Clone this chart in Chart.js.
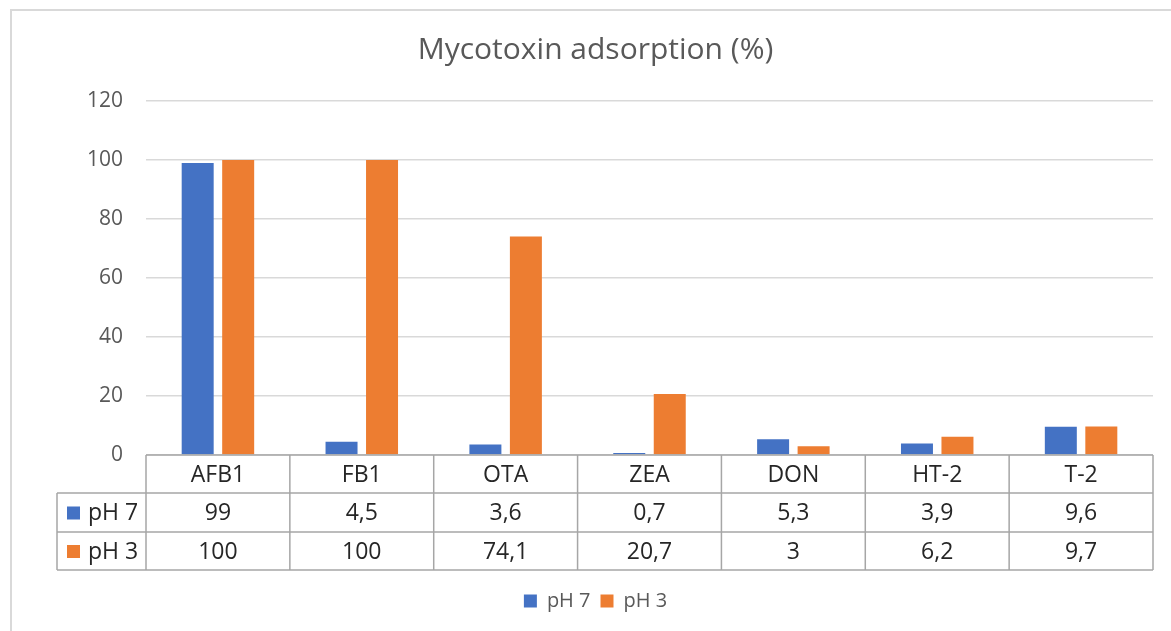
<!DOCTYPE html>
<html>
<head>
<meta charset="utf-8">
<script src="https://cdn.jsdelivr.net/npm/chart.js@4"></script>
<style>
  body { margin: 0; background: #fff; }
</style>
</head>
<body>
<canvas id="myChart" width="1171" height="631"></canvas>
<script>
/* data */
const categories = ['AFB1', 'FB1', 'OTA', 'ZEA', 'DON', 'HT-2', 'T-2'];
const ph7 = [99, 4.5, 3.6, 0.7, 5.3, 3.9, 9.6];
const ph3 = [100, 100, 74.1, 20.7, 3, 6.2, 9.7];
const seriesNames = ['pH 7', 'pH 3'];
const seriesColors = ['#4472C4', '#ED7D31'];

const FONT = "'Open Sans', 'Noto Sans', sans-serif";

// outer frame of the chart object
const framePlugin = {
  id: 'frame',
  beforeDraw(chart) {
    const c = chart.ctx;
    c.save();
    c.fillStyle = '#fff';
    c.fillRect(0, 0, chart.width, chart.height);
    c.strokeStyle = '#d9d9d9';
    c.lineWidth = 2;
    c.strokeRect(11, 10, 1300, 800);
    c.restore();
  }
};

// data table under the x axis
const tablePlugin = {
  id: 'dataTable',
  afterDraw(chart) {
    const c = chart.ctx;
    const x = chart.scales.x;
    const area = chart.chartArea;
    const colW = (area.right - area.left) / categories.length;
    const rowH = [38, 39, 38];
    const top = area.bottom;
    const r1 = top + rowH[0], r2 = r1 + rowH[1], r3 = r2 + rowH[2];
    const leftX = 57;

    c.save();
    c.strokeStyle = '#a6a6a6';
    c.lineWidth = 1.5;
    c.beginPath();
    // horizontal lines
    c.moveTo(area.left, top); c.lineTo(area.right, top);
    [r1, r2, r3].forEach(y => { c.moveTo(leftX, y); c.lineTo(area.right, y); });
    // vertical lines
    for (let i = 0; i <= categories.length; i++) {
      const xx = area.left + i * colW;
      c.moveTo(xx, top); c.lineTo(xx, r3);
    }
    c.moveTo(leftX, r1); c.lineTo(leftX, r3);
    c.stroke();

    c.font = '23px ' + FONT;
    c.fillStyle = '#262626';
    c.textAlign = 'center';
    c.textBaseline = 'middle';
    const rows = [ph7, ph3];
    categories.forEach((cat, i) => {
      const cx = x.getPixelForValue(i);
      c.fillText(cat, cx, top + rowH[0] / 2 + 1);
      rows.forEach((vals, k) => {
        const cy = (k === 0 ? r1 : r2) + rowH[k + 1] / 2 + 1;
        c.fillText(String(vals[i]).replace('.', ','), cx, cy);
      });
    });

    // series keys in the left column
    c.textAlign = 'left';
    seriesNames.forEach((name, k) => {
      const cy = (k === 0 ? r1 : r2) + rowH[k + 1] / 2;
      c.fillStyle = seriesColors[k];
      c.fillRect(67, cy - 6, 13, 13);
      c.fillStyle = '#262626';
      c.fillText(name, 88, cy + 1);
    });
    c.restore();
  }
};

const ctx = document.getElementById('myChart');
var config = {
  type: 'bar',
  data: {
    labels: categories,
    datasets: [
      { label: seriesNames[0], data: ph7, backgroundColor: seriesColors[0] },
      { label: seriesNames[1], data: ph3, backgroundColor: seriesColors[1] }
    ]
  },
  options: {
    responsive: false,
    animation: false,
    layout: { padding: { left: 38, right: 18, top: 0, bottom: 10 } },
    datasets: { bar: { barPercentage: 0.79, categoryPercentage: 0.563 } },
    plugins: {
      title: {
        display: true,
        text: 'Mycotoxin adsorption (%)',
        color: '#595959',
        font: { family: FONT, size: 30, weight: 'normal' },
        padding: { top: 32, bottom: 33 }
      },
      legend: {
        position: 'bottom',
        labels: {
          boxWidth: 13,
          boxHeight: 13,
          padding: 10,
          color: '#595959',
          font: { family: FONT, size: 20 }
        }
      },
      tooltip: { enabled: false }
    },
    scales: {
      x: {
        grid: { display: false },
        border: { display: false },
        ticks: { display: false },
        afterFit(scale) { scale.height = 126; }
      },
      y: {
        min: 0,
        max: 120,
        ticks: {
          stepSize: 20,
          padding: 23,
          color: '#595959',
          font: { family: FONT, size: 21 }
        },
        grid: { color: '#d9d9d9', lineWidth: 1.5, drawTicks: false },
        border: { display: false },
        afterFit(scale) { scale.width = 108; }
      }
    }
  },
  plugins: [framePlugin, tablePlugin]
};

var myChart = new Chart(ctx, config);
</script>
</body>
</html>
